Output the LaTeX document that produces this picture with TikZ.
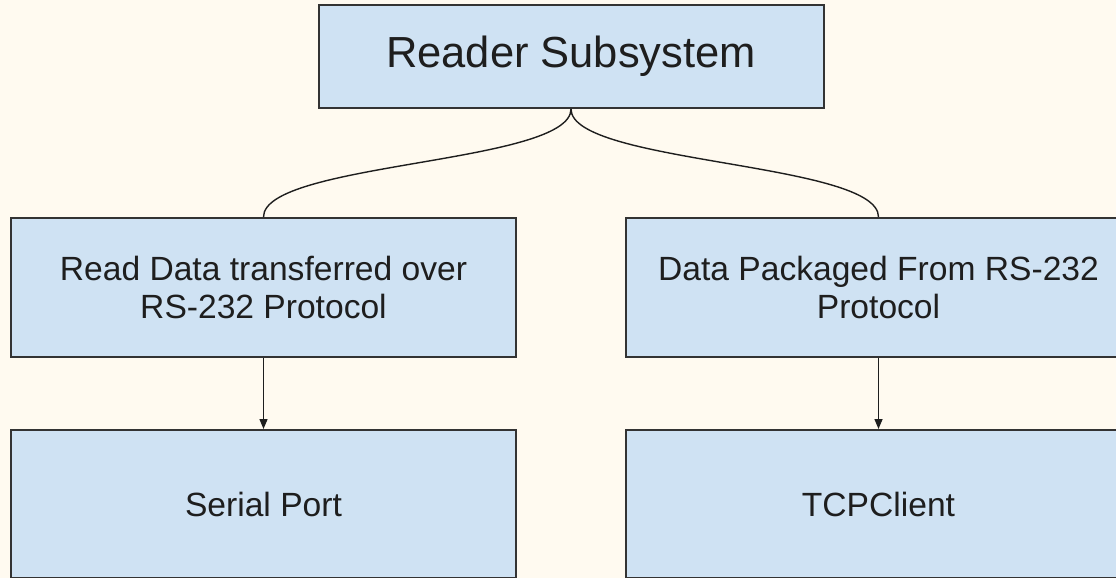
\documentclass[tikz,border=0pt]{standalone}
\usepackage{fontspec}
\setmainfont{Liberation Sans}
\usetikzlibrary{arrows.meta}
\definecolor{paper}{HTML}{FFFAF0}
\definecolor{boxfill}{HTML}{CFE2F3}
\definecolor{boxline}{HTML}{333333}
\definecolor{ink}{HTML}{1E1E1E}
\tikzset{
  block/.style={draw=boxline, line width=2pt, fill=boxfill, text=ink,
    inner sep=0pt, align=center, anchor=center},
  bigtext/.style={font=\fontsize{43.5}{48}\selectfont},
  smalltext/.style={font=\fontsize{33.6}{38}\selectfont},
  link/.style={draw=ink, line width=1.4pt},
  flow/.style={link, -{Triangle[length=10pt,width=8pt]}}
}
\begin{document}
\begin{tikzpicture}[x=1pt,y=-1pt]
  \useasboundingbox (0,0) rectangle (1116,578);
  \fill[paper] (0,0) rectangle (1116,578);

  \node[block, bigtext, minimum width=505pt, minimum height=103pt]
    (reader) at (571,56.5) {Reader Subsystem};

  \node[block, smalltext, minimum width=505pt, minimum height=139pt]
    (readdata) at (263.5,287.5) {Read Data transferred over\\RS-232 Protocol};
  \node[block, smalltext, minimum width=505pt, minimum height=139pt]
    (packaged) at (878.5,287.5) {Data Packaged From RS-232\\Protocol};

  \node[block, smalltext, minimum width=505pt, minimum height=148pt]
    (serial) at (263.5,504) {Serial Port};
  \node[block, smalltext, minimum width=505pt, minimum height=148pt]
    (tcp) at (878.5,504) {TCPClient};

  % branches from the subsystem to its two tasks
  \draw[link] (reader.south) .. controls +(0,55) and +(0,-55) .. (readdata.north);
  \draw[link] (reader.south) .. controls +(0,55) and +(0,-55) .. (packaged.north);

  % each task feeds its component
  \draw[flow] (readdata.south) -- (serial.north);
  \draw[flow] (packaged.south) -- (tcp.north);
\end{tikzpicture}
\end{document}
